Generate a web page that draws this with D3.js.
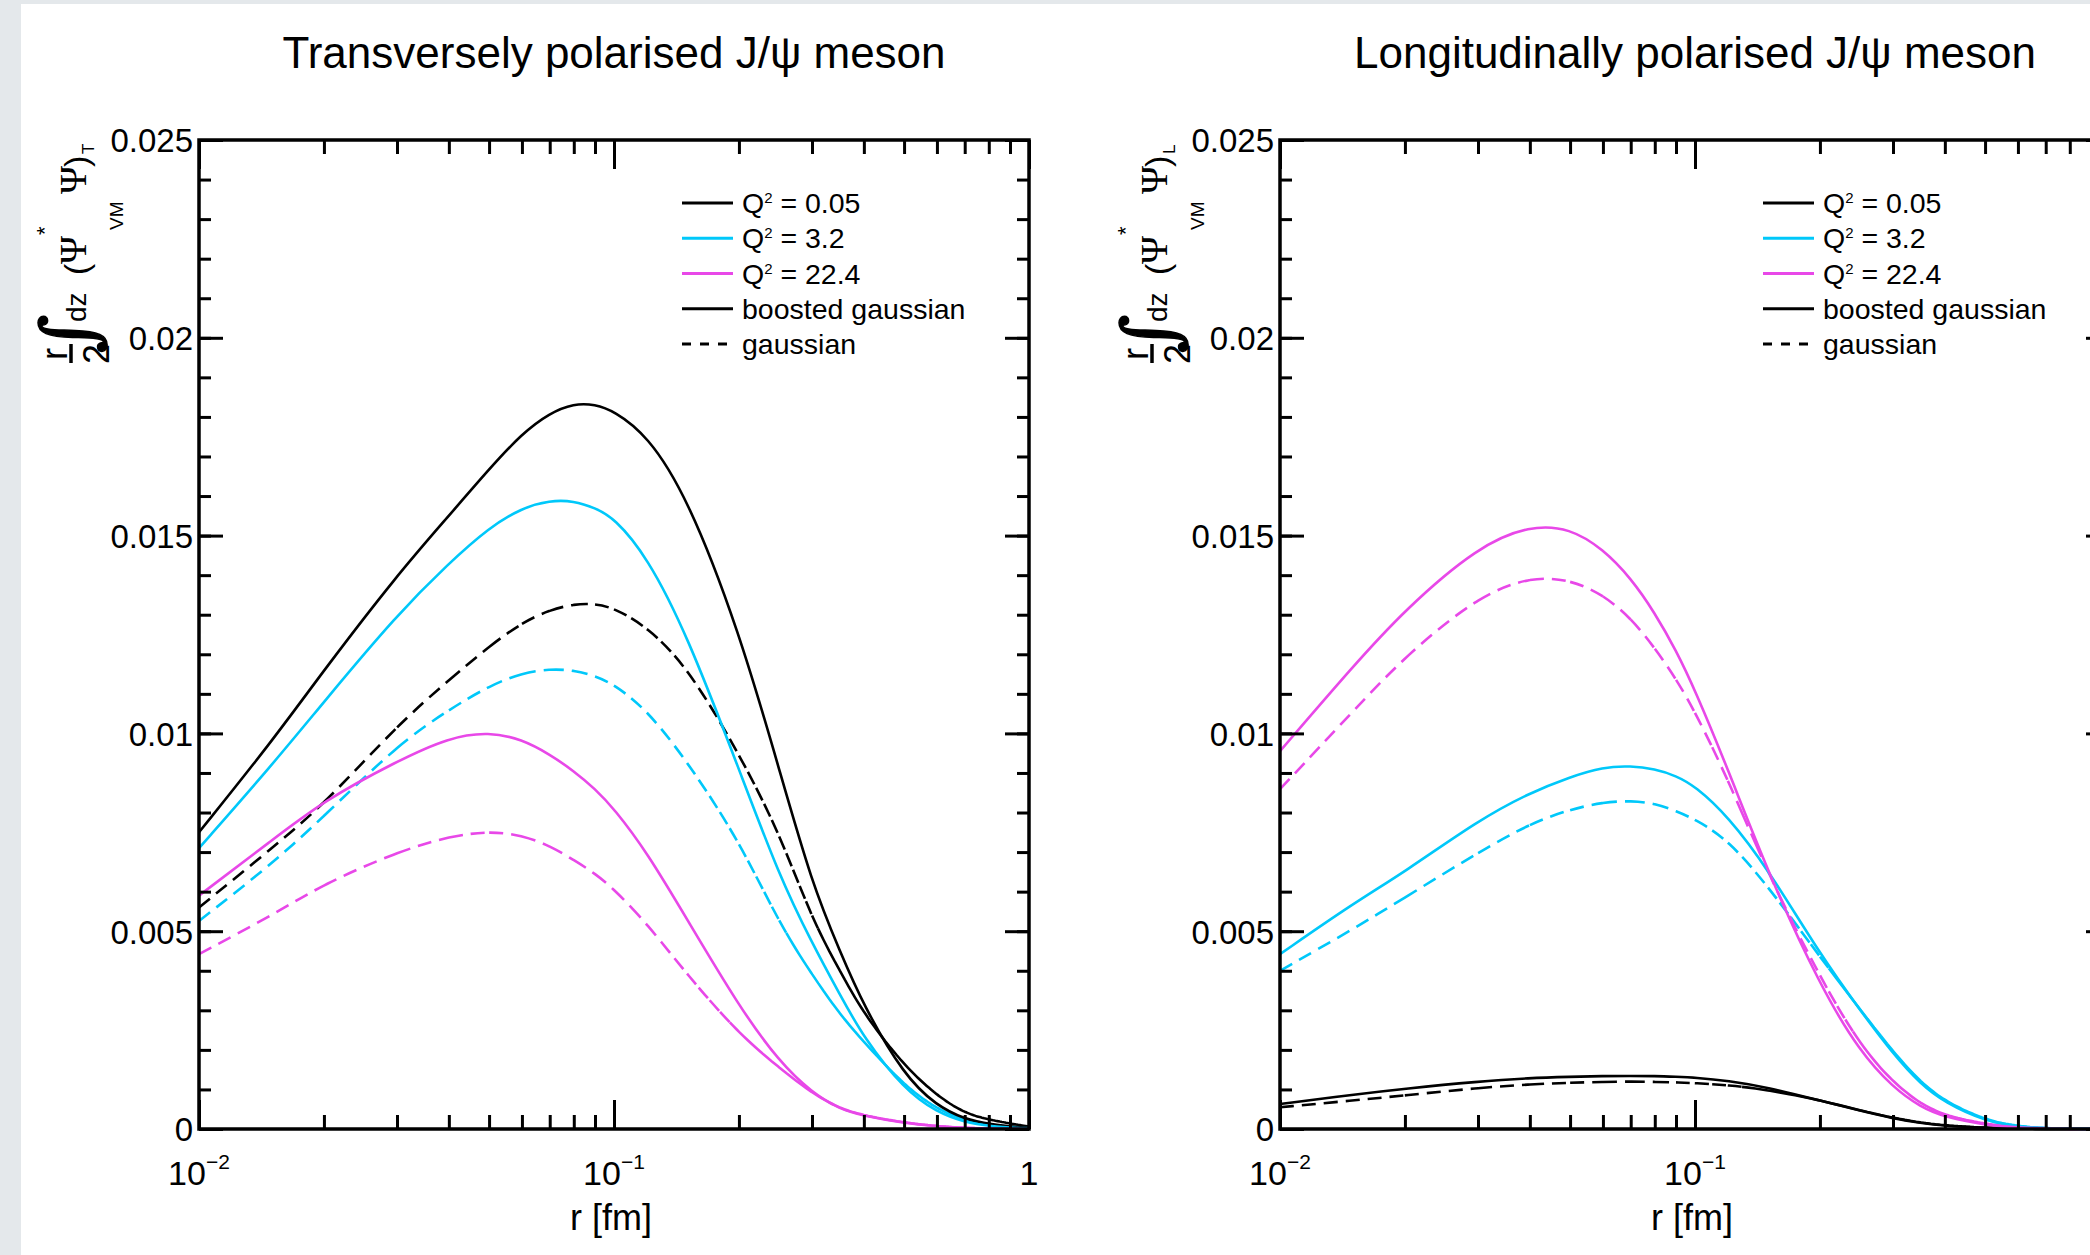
<!DOCTYPE html>
<html>
<head>
<meta charset="utf-8">
<style type="text/css">
  body { margin: 0; background: #e4e8eb; }
  svg { display: block; }
  text { font-family: "Liberation Sans", Arial, Helvetica, sans-serif; fill: #000; }
  .tick line { stroke: #000; stroke-width: 3px; }
</style>
</head>
<body>
<svg id="chart"></svg>
<script src="https://d3js.org/d3.v7.min.js"></script>
<script>
    // r grid [fm] shared by every curve
    var rGrid = [0.01, 0.015, 0.02, 0.03, 0.04, 0.05, 0.06, 0.07, 0.08, 0.09, 0.1,
                 0.12, 0.15, 0.2, 0.25, 0.3, 0.35, 0.4, 0.5, 0.6, 0.7, 0.8, 1.0];

    /* transversely polarised, boosted gaussian (solid) */
    var tBoostQ005 = [0.0075, 0.0098, 0.0116, 0.0140, 0.0155, 0.01668, 0.01758, 0.0181, 0.01834, 0.01832, 0.01815,
                      0.01755, 0.0160, 0.0126, 0.0091, 0.0062, 0.0045, 0.0031, 0.00135, 0.00058, 0.00025, 0.00012, 0.00002];
    var tBoostQ32  = [0.0071, 0.0092, 0.0108, 0.0130, 0.0143, 0.0152, 0.0157, 0.01589, 0.01588, 0.0157, 0.01545,
                      0.01448, 0.0125, 0.0091, 0.0064, 0.0047, 0.0034, 0.0023, 0.0010, 0.00042, 0.00017, 0.00007, 0.00001];
    var tBoostQ224 = [0.0059, 0.0073, 0.0083, 0.0093, 0.0099, 0.01004, 0.00985, 0.00947, 0.00905, 0.0086, 0.0081,
                      0.0070, 0.0053, 0.0031, 0.0017, 0.00092, 0.0005, 0.00033, 0.00015, 0.00007, 0.00003, 0.00001, 0];
    /* transversely polarised, gaussian (dashed) */
    var tGausQ005  = [0.0056, 0.0071, 0.0082, 0.0102, 0.01135, 0.0122, 0.0128, 0.01312, 0.01327, 0.01328, 0.01317,
                      0.0127, 0.0117, 0.0095, 0.0075, 0.0053, 0.0040, 0.0029, 0.0016, 0.00084, 0.0004, 0.00023, 0.00006];
    var tGausQ32   = [0.00526, 0.0067, 0.0079, 0.0097, 0.0106, 0.0112, 0.01153, 0.01163, 0.0116, 0.01145, 0.01124,
                      0.0106, 0.0093, 0.0073, 0.0052, 0.0039, 0.0029, 0.0022, 0.0011, 0.0005, 0.00022, 0.0001, 0.00002];
    var tGausQ224  = [0.00442, 0.0054, 0.0062, 0.0070, 0.0074, 0.00753, 0.00743, 0.00716, 0.0068, 0.00646, 0.00606,
                      0.0052, 0.0039, 0.0024, 0.00155, 0.0009, 0.00052, 0.00034, 0.00016, 0.00007, 0.00003, 0.00001, 0];

    /* longitudinally polarised, boosted gaussian (solid) */
    var lBoostQ005 = [0.00063, 0.00087, 0.00102, 0.0012, 0.00129, 0.00132, 0.00134, 0.00134, 0.00134, 0.00132, 0.0013,
                      0.00122, 0.00105, 0.00072, 0.00046, 0.00027, 0.00015, 0.00008, 0.00003, 0.00001, 0, 0, 0];
    var lBoostQ32  = [0.00442, 0.0057, 0.0065, 0.0078, 0.0085, 0.0089, 0.00915, 0.00918, 0.0091, 0.00893, 0.00867,
                      0.00791, 0.00657, 0.00442, 0.003, 0.0019, 0.00113, 0.00067, 0.0002, 0.00006, 0.00002, 0.000005, 0];
    var lBoostQ224 = [0.00955, 0.0117, 0.01313, 0.01473, 0.01526, 0.01519, 0.01466, 0.01393, 0.01305, 0.0121, 0.0111,
                      0.0091, 0.00648, 0.00362, 0.00194, 0.00105, 0.00055, 0.0003, 0.0001, 0.00004, 0.00001, 0, 0];
    /* longitudinally polarised, gaussian (dashed) */
    var lGausQ005  = [0.00055, 0.00072, 0.00085, 0.00104, 0.00113, 0.00117, 0.00119, 0.0012, 0.00119, 0.00118, 0.00116,
                      0.00111, 0.00099, 0.00073, 0.00047, 0.00028, 0.00016, 0.00009, 0.00003, 0.00001, 0, 0, 0];
    var lGausQ32   = [0.0040, 0.00505, 0.00585, 0.00699, 0.00772, 0.00808, 0.00826, 0.0083, 0.00823, 0.00804, 0.00783,
                      0.00732, 0.00614, 0.00435, 0.00302, 0.00195, 0.00118, 0.0007, 0.00022, 0.00007, 0.00002, 0.000005, 0];
    var lGausQ224  = [0.00859, 0.01056, 0.01195, 0.01347, 0.01396, 0.01389, 0.01351, 0.01292, 0.01216, 0.01138, 0.01055,
                      0.00885, 0.00644, 0.00383, 0.00211, 0.00118, 0.00063, 0.00034, 0.00012, 0.00005, 0.00002, 0, 0];

    var yMajor = [0, 0.005, 0.01, 0.015, 0.02, 0.025];
    var yTickLabels = ['0', '0.005', '0.01', '0.015', '0.02', '0.025'];
    var yMinor = d3.range(0, 26).map(function(i) { return i * 0.001; });
    var xMajor = [0.01, 0.1, 1];
    var xTickLabels = [['10', '\u22122'], ['10', '\u22121'], ['1', '']];
    var xMinor = [0.02, 0.03, 0.04, 0.05, 0.06, 0.07, 0.08, 0.09, 0.2, 0.3, 0.4, 0.5, 0.6, 0.7, 0.8, 0.9];

    var legendLabels = [['Q', '2', ' = 0.05'], ['Q', '2', ' = 3.2'], ['Q', '2', ' = 22.4'],
                        ['boosted gaussian', '', ''], ['gaussian', '', '']];

    var black = '#000000', cyan = '#00c8fa', magenta = '#e848e8';
    var legendStyles = [[black, false], [cyan, false], [magenta, false], [black, false], [black, true]];

    var width = 2090, height = 1255;
    var frameW = 830, frameTop = 140, frameBottom = 1129;
    var dashLen = 14, gapLen = 8;
    // the dash pattern starts over on every step of 0.01 in r, as in the original plot
    var dashSteps = d3.range(2, 100).map(function(k) { return k / 100; });

    var panels = [
      { x0: 199, title: 'Transversely polarised J/\u03c8 meson', pol: 'T',
        curves: [[tGausQ005, black, true], [tGausQ32, cyan, true], [tGausQ224, magenta, true],
                 [tBoostQ005, black, false], [tBoostQ32, cyan, false], [tBoostQ224, magenta, false]] },
      { x0: 1280, title: 'Longitudinally polarised J/\u03c8 meson', pol: 'L',
        curves: [[lGausQ005, black, true], [lGausQ32, cyan, true], [lGausQ224, magenta, true],
                 [lBoostQ005, black, false], [lBoostQ32, cyan, false], [lBoostQ224, magenta, false]] }
    ];

    var svg = d3.select('#chart')
      .attr('width', width)
      .attr('height', height);

    svg.append('rect')
      .attr('x', 21).attr('y', 4)
      .attr('width', width - 21).attr('height', height - 4)
      .attr('fill', '#fff');

    function restartDashes(path, xs) {
      var node = path.node();
      var total = node.getTotalLength();
      var lens = [0];
      xs.forEach(function(bx) {
        var lo = lens[lens.length - 1], hi = total;
        if (node.getPointAtLength(hi).x <= bx || node.getPointAtLength(lo).x >= bx) return;
        for (var k = 0; k < 24; k++) {
          var mid = (lo + hi) / 2;
          if (node.getPointAtLength(mid).x < bx) lo = mid; else hi = mid;
        }
        lens.push((lo + hi) / 2);
      });
      lens.push(total);
      var arr = [];
      for (var i = 1; i < lens.length; i++) {
        var rem = lens[i] - lens[i - 1];
        while (rem > 1e-6) {
          var d = Math.min(dashLen, rem); arr.push(d.toFixed(2)); rem -= d;
          var g = Math.min(gapLen, rem); arr.push(Math.max(g, 0).toFixed(2)); rem -= g;
        }
      }
      path.attr('stroke-dasharray', arr.join(' '));
    }

    function yTitle(g, bx, by, pol) {
      var t = g.append('g').attr('transform', 'translate(' + bx + ',' + by + ') rotate(-90)');
      var serif = '"DejaVu Serif", "Liberation Serif", serif';
      function put(str, xx, yy, size, fam, anchor) {
        return t.append('text')
          .attr('x', xx).attr('y', yy)
          .attr('font-size', size)
          .style('font-family', fam || null)
          .attr('text-anchor', anchor || 'start')
          .text(str);
      }
      put('r', 8, -19, 36, null, 'middle');
      t.append('line').attr('x1', -1).attr('x2', 18).attr('y1', -15).attr('y2', -15)
        .attr('stroke', '#000').attr('stroke-width', 3.5);
      put('2', 8, 23, 36, null, 'middle');
      put('\u222B', 28, 8, 74, serif, 'middle').attr('stroke', '#000').attr('stroke-width', 1.5);
      put('dz', 40, 0, 28);
      put('(', 87, 2, 34);
      put('\u03A8', 98, 0, 38, '"Liberation Serif", serif');
      put('*', 127, -34, 22);
      put('VM', 132, 37, 19);
      put('\u03A8', 168, 0, 38, '"Liberation Serif", serif');
      put(')', 195, 2, 34);
      put(pol, 208, 8, 17);
    }

    panels.forEach(function(p) {
      var x = d3.scaleLog().domain([0.01, 1]).range([p.x0, p.x0 + frameW]);
      var y = d3.scaleLinear().domain([0, 0.025]).range([frameBottom, frameTop]);
      var g = svg.append('g');

      // title
      g.append('text')
        .attr('x', p.x0 + frameW / 2).attr('y', 68)
        .attr('text-anchor', 'middle')
        .attr('font-size', 44)
        .text(p.title);

      // curves
      var line = d3.line()
        .x(function(d) { return x(d[0]); })
        .y(function(d) { return y(d[1]); })
        .curve(d3.curveBasis);
      var stepXs = dashSteps.map(function(r) { return x(r); });
      p.curves.forEach(function(c) {
        var path = g.append('path')
          .datum(rGrid.map(function(r, i) { return [r, c[0][i]]; }))
          .attr('d', line)
          .attr('fill', 'none')
          .attr('stroke', c[1])
          .attr('stroke-width', 2.6);
        if (c[2]) restartDashes(path, stepXs);
      });

      // axes: ticks on all four sides, pointing inward
      var yl = g.append('g').attr('transform', 'translate(' + p.x0 + ',0)')
        .call(d3.axisLeft(y).tickValues(yMajor).tickSizeInner(-24).tickSizeOuter(0).tickPadding(6)
          .tickFormat(function(d) { return yTickLabels[yMajor.indexOf(d)]; }));
      yl.selectAll('text').attr('font-size', 33).attr('dy', '0.36em').style('font-family', null);
      g.append('g').attr('transform', 'translate(' + p.x0 + ',0)')
        .call(d3.axisLeft(y).tickValues(yMinor).tickSizeInner(-12).tickSizeOuter(0).tickFormat(''));
      g.append('g').attr('transform', 'translate(' + (p.x0 + frameW) + ',0)')
        .call(d3.axisRight(y).tickValues(yMajor).tickSizeInner(-24).tickSizeOuter(0).tickFormat(''));
      g.append('g').attr('transform', 'translate(' + (p.x0 + frameW) + ',0)')
        .call(d3.axisRight(y).tickValues(yMinor).tickSizeInner(-12).tickSizeOuter(0).tickFormat(''));
      g.append('g').attr('transform', 'translate(0,' + frameBottom + ')')
        .call(d3.axisBottom(x).tickValues(xMajor).tickSizeInner(-29).tickSizeOuter(0).tickFormat(''));
      g.append('g').attr('transform', 'translate(0,' + frameBottom + ')')
        .call(d3.axisBottom(x).tickValues(xMinor).tickSizeInner(-14).tickSizeOuter(0).tickFormat(''));
      g.append('g').attr('transform', 'translate(0,' + frameTop + ')')
        .call(d3.axisTop(x).tickValues(xMajor).tickSizeInner(-29).tickSizeOuter(0).tickFormat(''));
      g.append('g').attr('transform', 'translate(0,' + frameTop + ')')
        .call(d3.axisTop(x).tickValues(xMinor).tickSizeInner(-14).tickSizeOuter(0).tickFormat(''));
      g.selectAll('.domain').remove();

      // x tick labels with exponents (skip the one that falls outside the page)
      xMajor.forEach(function(v, i) {
        if (x(v) > width - 10) return;
        var t = g.append('text')
          .attr('x', x(v)).attr('y', 1185)
          .attr('text-anchor', 'middle')
          .attr('font-size', 34)
          .text(xTickLabels[i][0]);
        if (xTickLabels[i][1]) {
          t.append('tspan').attr('font-size', 21).attr('dy', -16).text(xTickLabels[i][1]);
        }
      });

      // frame
      g.append('rect')
        .attr('x', p.x0).attr('y', frameTop)
        .attr('width', frameW).attr('height', frameBottom - frameTop)
        .attr('fill', 'none')
        .attr('stroke', '#000')
        .attr('stroke-width', 3.5);

      // axis titles
      g.append('text')
        .attr('x', p.x0 + frameW / 2 - 3).attr('y', 1230)
        .attr('text-anchor', 'middle')
        .attr('font-size', 36)
        .text('r [fm]');
      yTitle(g, p.x0 - 113, 362, p.pol);

      // legend
      var lg = g.append('g').attr('transform', 'translate(' + (p.x0 + 483) + ',203)');
      legendLabels.forEach(function(lab, i) {
        var yy = i * 35.25;
        lg.append('line')
          .attr('x1', 0).attr('x2', 51).attr('y1', yy).attr('y2', yy)
          .attr('stroke', legendStyles[i][0])
          .attr('stroke-width', 3)
          .attr('stroke-dasharray', legendStyles[i][1] ? '9,9' : null);
        var t = lg.append('text')
          .attr('x', 60).attr('y', yy + 10)
          .attr('font-size', 28.5)
          .text(lab[0]);
        if (lab[1]) {
          t.append('tspan').attr('font-size', 15).attr('dy', -10).text(lab[1]);
          t.append('tspan').attr('dy', 10).text(lab[2]);
        }
      });
    });
</script>
</body>
</html>
